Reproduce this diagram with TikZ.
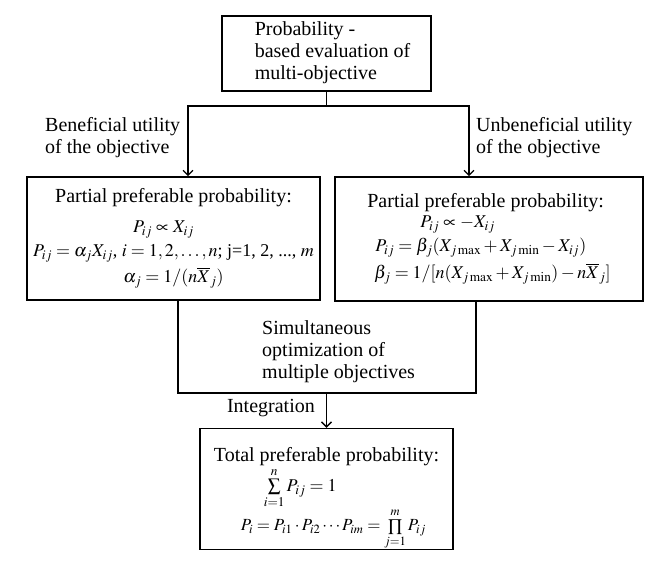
\documentclass[tikz,border=0pt]{standalone}
\usepackage{mathptmx}
\usepackage{fontspec}
\setmainfont{Liberation Serif}
\usetikzlibrary{arrows.meta}
\newcommand{\eqsz}{\fontsize{18}{20}\selectfont}
\tikzset{
  box/.style={draw, line width=1.6pt, inner sep=0pt},
  lbl/.style={inner sep=0pt},
  conn/.style={line width=1.3pt},
  arr/.style={conn, -{Straight Barb[length=5pt,width=10pt]}},
}
\begin{document}
\begin{tikzpicture}[x=1pt,y=-1pt,font=\fontsize{20}{22}\selectfont]
\useasboundingbox (0,0) rectangle (650,561);
% boxes
\node[box,minimum width=209pt,minimum height=75pt] (top) at (326.5,53.5) {\hspace*{12pt}\begin{tabular}{@{}l@{}}Probability -\\based evaluation of\\multi-objective\end{tabular}};
\node[box,minimum width=293pt,minimum height=123pt] (partA) at (173.5,238.5) {\begin{tabular}{@{}c@{}}Partial preferable probability:\\[8pt]
 \eqsz\hspace*{-20pt}$P_{ij}\propto X_{ij}$\\[2pt]
 \eqsz$P_{ij}=\alpha_j X_{ij}$, $i=1,2,\dots,n$; j=1, 2, ..., $m$\\[4pt]
 \eqsz$\alpha_j=1/(n\overline{X}_j)$\end{tabular}};
\node[box,minimum width=308pt,minimum height=124pt] (partB) at (489,239) {\begin{tabular}{@{}l@{}}Partial preferable probability:\\[-2pt]
 \eqsz\hspace*{53pt}$P_{ij}\propto -X_{ij}$\\[2pt]
 \eqsz\hspace*{8pt}$P_{ij}=\beta_j(X_{j\max}+X_{j\min}-X_{ij})$\\[5pt]
 \eqsz\hspace*{7pt}$\beta_j=1/[n(X_{j\max}+X_{j\min})-n\overline{X}_j]$\end{tabular}};
\node[box,minimum width=253pt,minimum height=116pt] (total) at (326.5,489) {\begin{tabular}{@{}l@{}}\rule{0pt}{33pt}Total preferable probability:\\
 \eqsz\hspace*{50pt}$\sum\limits_{i=1}^{n}P_{ij}=1$\\[2pt]
 \fontsize{17}{20}\selectfont\hspace*{27pt}$P_i=P_{i1}\cdot P_{i2}\cdots P_{im}=\prod\limits_{j=1}^{m}P_{ij}$\end{tabular}};
% labels
\node[lbl,anchor=west] (benef) at (45,138) {\begin{tabular}{@{}l@{}}Beneficial utility\\of the objective\end{tabular}};
\node[lbl,anchor=west] (unbenef) at (476,138) {\begin{tabular}{@{}l@{}}Unbeneficial utility\\of the objective\end{tabular}};
\node[lbl,anchor=west] (simul) at (262,352) {\begin{tabular}{@{}l@{}}Simultaneous\\optimization of\\multiple objectives\end{tabular}};
\node[lbl,anchor=east] (integ) at (315,408) {Integration};
% connectors
\coordinate (fork) at (326.5,106);
\draw[conn] (top.south) -- (fork);
\draw[arr] (fork) -| ([xshift=14.5pt]partA.north);
\draw[arr] (fork) -| ([xshift=-20pt]partB.north);
\coordinate (merge) at (326.5,393);
\draw[conn] ([xshift=4.5pt]partA.south) |- (merge);
\draw[conn] ([xshift=-13pt]partB.south) |- (merge);
\draw[arr] (merge) -- (total.north);
\end{tikzpicture}
\end{document}
